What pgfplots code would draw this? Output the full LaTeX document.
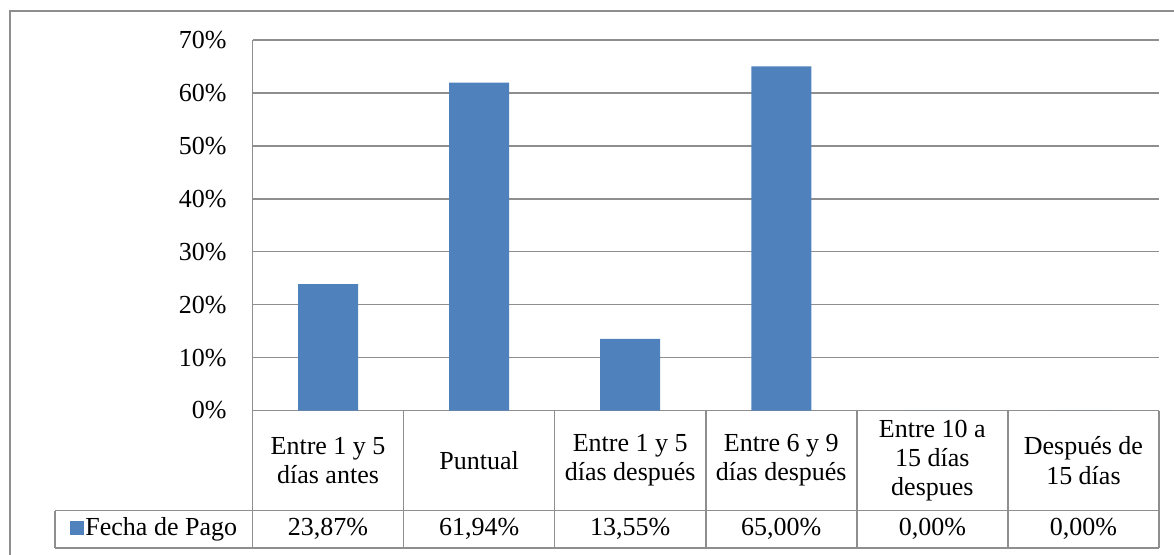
\documentclass[border=0pt]{standalone}
\usepackage{pgfplots}
\pgfplotsset{compat=1.18}
\usepackage{fontspec}
\setmainfont{Liberation Serif}
\newfontfamily\tnr{Liberation Serif}
\definecolor{barblue}{HTML}{4F81BD}
\definecolor{gridgray}{HTML}{8E8E8E}
\begin{document}
\begin{tikzpicture}[x=0.5pt,y=0.5pt]
\path[use as bounding box] (0,0) rectangle (1174,554);
\begin{scope}
\clip (0,0) rectangle (1174,554);
\draw[gridgray, line width=0.9pt] (10,-20) -- (10,543) -- (1200,543);
\end{scope}
\begin{axis}[
  at={(126.25pt,71.75pt)}, anchor=south west,
  scale only axis, width=453.25pt, height=185.25pt,
  xmin=-0.5, xmax=5.5, ymin=0, ymax=70,
  axis x line*=bottom, axis y line*=left,
  axis line style={gridgray, line width=0.75pt, -},
  ymajorgrids, grid style={gridgray, line width=0.75pt},
  ytick={0,10,...,70},
  yticklabels={0\%,10\%,20\%,30\%,40\%,50\%,60\%,70\%},
  xtick={0,1,2,3,4,5},
  xticklabels={{Entre 1 y 5\\días antes},{Puntual},{Entre 1 y 5\\días después},{Entre 6 y 9\\días después},{Entre 10 a\\15 días\\despues},{Después de\\15 días}},
  major tick length=0pt,
  tick label style={font=\tnr\fontsize{13}{14.6}\selectfont},
  yticklabel style={inner sep=0pt, xshift=-12.75pt},
  xticklabel style={align=center, anchor=center, yshift=-25pt},
  ybar, bar width=30pt,
  clip=false,
]
\addplot[fill=barblue, draw=none] coordinates {(0,23.87) (1,61.94) (2,13.55) (3,65.00) (4,0) (5,0)};
\node[font=\tnr\fontsize{13}{15}\selectfont] at (axis cs:0,0) [yshift=-59.4pt] {23,87\%};
\node[font=\tnr\fontsize{13}{15}\selectfont] at (axis cs:1,0) [yshift=-59.4pt] {61,94\%};
\node[font=\tnr\fontsize{13}{15}\selectfont] at (axis cs:2,0) [yshift=-59.4pt] {13,55\%};
\node[font=\tnr\fontsize{13}{15}\selectfont] at (axis cs:3,0) [yshift=-59.4pt] {65,00\%};
\node[font=\tnr\fontsize{13}{15}\selectfont] at (axis cs:4,0) [yshift=-59.4pt] {0,00\%};
\node[font=\tnr\fontsize{13}{15}\selectfont] at (axis cs:5,0) [yshift=-59.4pt] {0,00\%};
\end{axis}
\begin{scope}[gridgray, line width=0.75pt]
\draw (55,43.5) -- (1159,43.5);
\draw (55,6) -- (1159,6);
\draw (55,43.5) -- (55,6);
\foreach \xx in {252.5,403.6,554.7,705.75,856.8,1007.9,1159} {\draw (\xx,143.5) -- (\xx,6);}
\end{scope}
\node[font=\tnr\fontsize{13}{15}\selectfont] at (153.75,24.75) {\textcolor{barblue}{\rule{7pt}{7pt}}\hspace{0.5pt}Fecha de Pago};
\end{tikzpicture}
\end{document}
